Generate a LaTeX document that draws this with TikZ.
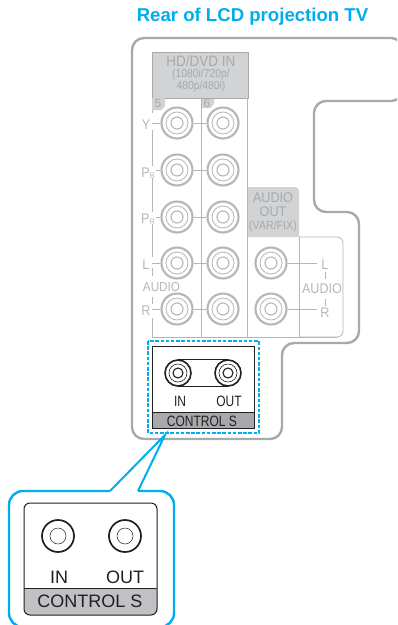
\documentclass[tikz,border=0pt]{standalone}
\usepackage{fontspec}
\setmainfont{Liberation Sans}
\newfontfamily\narrowfont[FakeStretch=0.9]{Liberation Sans}
\newfontfamily\slimfont[FakeStretch=0.8]{Liberation Sans}
\definecolor{skyblue}{HTML}{00AEEF}
\definecolor{panelgray}{HTML}{A7A9AC}
\definecolor{softgray}{HTML}{B4B6B9}
\definecolor{boxgray}{HTML}{D1D3D4}
\definecolor{bandgray}{HTML}{A7A9AC}
\definecolor{inkblack}{HTML}{231F20}
\newcommand{\txt}[1]{\fontsize{#1}{#1}\selectfont}
\tikzset{every picture/.style={line width=0.75pt},
  jackout/.style={circle,draw=softgray,line width=2.1pt,fill=white,minimum size=31pt,inner sep=0pt},
  jackmid/.style={circle,draw=softgray,line width=0.8pt,minimum size=22pt,inner sep=0pt},
  jackin/.style={circle,draw=softgray,line width=1.1pt,minimum size=12pt,inner sep=0pt},
  darkout/.style={circle,draw=inkblack,line width=1.6pt,fill=white,minimum size=26pt,inner sep=0pt},
  darkmid/.style={circle,draw=inkblack,line width=0.6pt,minimum size=18pt,inner sep=0pt},
  darkin/.style={circle,draw=inkblack,line width=1.1pt,minimum size=10pt,inner sep=0pt},
  bigout/.style={circle,draw=inkblack,line width=1.7pt,fill=white,minimum size=32pt,inner sep=0pt},
  bigin/.style={circle,draw=inkblack,line width=0.5pt,minimum size=16pt,inner sep=0pt},
  graylabel/.style={text=softgray,inner sep=0pt,align=center},
  boxlabel/.style={text=panelgray,inner sep=0pt,align=center},
  darklabel/.style={text=inkblack,inner sep=0pt},
  thinline/.style={draw=softgray,line width=0.8pt}}

\begin{document}
\begin{tikzpicture}[x=1pt,y=-1pt]
  \clip (0,0) rectangle (397,625);

  % --- titre ---
  \node[text=skyblue,inner sep=0pt,font=\txt{18.6}\bfseries] (title) at (252.5,17) {Rear of LCD projection TV};

  % --- le boitier ---
  \draw[draw=panelgray,line width=2.4pt,rounded corners=12pt]
    (132,38) -- (403,38) -- (403,101) -- (314,101) -- (314,212)
    -- (359,212) -- (359,343) -- (282,343) -- (282,439) -- (132,439) -- cycle;

  % --- les panneaux gris ---
  \fill[boxgray] (152,52) -- (248,52) -- (248,98) -- (214,98) -- (214,104)
    to[out=90,in=0] (210,108) -- (201,108) -- (201,98) -- (165,98) -- (165,106)
    to[out=90,in=0] (161,110) -- (152,110) -- cycle;
  \draw[draw=panelgray,line width=0.8pt] (152,98) -- (152,52) -- (248,52) -- (248,98) -- (165,98);
  \fill[boxgray,rounded corners=4pt] (247,187) -- (299,187) -- (299,237) -- (247,237) -- cycle;
  \fill[boxgray] (247,187) rectangle (255,237);
  \fill[boxgray] (290,228) rectangle (299,237);
  \node[boxlabel,font=\narrowfont\txt{15}] (hdin) at (201,61) {HD/DVD IN};
  \node[boxlabel,font=\narrowfont\txt{11.5}] (hdres) at (201,75) {(1080i/720p/};
  \node[boxlabel,font=\narrowfont\txt{11.5}] (hdrestwo) at (201,87) {480p/480i)};
  \node[boxlabel,font=\txt{12}] (numfive) at (158,103) {5};
  \node[boxlabel,font=\txt{12}] (numsix) at (207,103) {6};
  \node[boxlabel,font=\narrowfont\txt{14}] (aoutone) at (273,198) {AUDIO};
  \node[boxlabel,font=\narrowfont\txt{14}] (aouttwo) at (273,212) {OUT};
  \node[boxlabel,font=\narrowfont\txt{11.8}] (aoutvar) at (273,226) {(VAR/FIX)};

  % --- les cloisons ---
  \foreach \a/\b in {110/113,130/166,178/212,224/257,268/276,297/304,318/337}
    \draw[thinline] (152,\a) -- (152,\b);
  \draw[thinline] (152,337) -- (337,337);
  \draw[thinline] (201,98) -- (201,337);
  \draw[thinline] (247,98) -- (247,337);
  \draw[thinline] (299,237) -- (299,337);
  \draw[thinline,rounded corners=6pt] (299,237) -- (343,237) -- (343,337) -- (299,337);

  % --- les prises ---
  \foreach \n/\y/\s in {y/123/152,b/170/156,r/217/156,l/263/152,a/309/152}{
    \coordinate (w\n) at (\s,\y);
    \node[jackout] (\n five) at (177,\y) {};
    \node[jackmid] (\n fivem) at (\n five) {};
    \node[jackin] (\n fivei) at (\n five) {};
    \node[jackout] (\n six) at (223,\y) {};
    \node[jackmid] (\n sixm) at (\n six) {};
    \node[jackin] (\n sixi) at (\n six) {};
    \draw[thinline] (w\n) -- (\n five);
    \draw[thinline] (\n five) -- (\n six);
  }
  \foreach \n/\y in {l/263,a/309}{
    \coordinate (e\n) at (317,\y);
    \node[jackout] (\n out) at (271,\y) {};
    \node[jackmid] (\n outm) at (\n out) {};
    \node[jackin] (\n outi) at (\n out) {};
    \draw[thinline] (\n out) -- (e\n);
  }

  % --- les noms des prises ---
  \node[graylabel,font=\narrowfont\txt{14}] (ny) at (146,125) {Y};
  \node[graylabel,font=\narrowfont\txt{14}] (nb) at (148,173) {P\raisebox{-0.2ex}{\txt{8}B}};
  \node[graylabel,font=\narrowfont\txt{14}] (nr) at (148,219) {P\raisebox{-0.2ex}{\txt{8}R}};
  \node[graylabel,font=\narrowfont\txt{14}] (nl) at (146,265) {L};
  \node[graylabel,font=\narrowfont\txt{14}] (na) at (146,311) {R};
  \node[graylabel,font=\narrowfont\txt{13}] (naudio) at (161.5,287) {AUDIO};
  \node[graylabel,font=\narrowfont\txt{14}] (rl) at (325,265) {L};
  \node[graylabel,font=\narrowfont\txt{14}] (raudio) at (322,289) {AUDIO};
  \node[graylabel,font=\narrowfont\txt{14}] (rr) at (325,313) {R};
  \draw[thinline] (rl) ++(0,7) -- ++(0,7);
  \draw[thinline] (rr) ++(0,-7) -- ++(0,-7);

  % --- CONTROL S ---
  \draw[draw=inkblack,line width=1pt,fill=white] (152,346) rectangle (254,428);
  \fill[bandgray] (152,412) rectangle (254,428);
  \draw[draw=inkblack,line width=1pt] (152,412) -- (254,412) -- (254,428) -- (152,428) -- cycle;
  \draw[draw=skyblue,line width=1.3pt,dash pattern=on 3.5pt off 1.7pt] (148,341) rectangle (259,433);
  \node[darkout] (inback) at (178,373) {};
  \node[darkmid] (inbackm) at (inback) {};
  \node[darkin] (inbacki) at (inback) {};
  \node[darkout] (outback) at (228,373) {};
  \node[darkmid] (outbackm) at (outback) {};
  \node[darkin] (outbacki) at (outback) {};
  \draw[draw=inkblack,line width=0.8pt] (inback.north) -- (outback.north);
  \draw[draw=inkblack,line width=0.8pt] (inback.south) -- (outback.south);
  \node[darklabel,font=\slimfont\txt{15}] (inlab) at (180,401) {IN};
  \node[darklabel,font=\slimfont\txt{15}] (outlab) at (229,401) {OUT};
  \node[darklabel,font=\slimfont\txt{15}] (ctrl) at (202,421) {CONTROL S};

  % --- la loupe ---
  \draw[draw=skyblue,line width=2.4pt,rounded corners=14pt]
    (138,491) -- (174,491) -- (174,627) -- (9,627) -- (9,491) -- (110,491);
  \draw[draw=skyblue,line width=2pt,line join=miter] (110,491) -- (165,435) -- (138,491);
  \fill[softgray!85!white,rounded corners=6pt] (24,588) -- (157,588) -- (157,615) -- (24,615) -- cycle;
  \fill[softgray!85!white] (24,588) rectangle (157,600);
  \draw[draw=inkblack,line width=1pt,rounded corners=6pt] (24,503) rectangle (157,615);
  \draw[draw=inkblack,line width=0.8pt] (24,588) -- (157,588);
  \node[bigout] (inbig) at (58,536) {};
  \node[bigin] (inbigi) at (inbig) {};
  \node[bigout] (outbig) at (125,536) {};
  \node[bigin] (outbigi) at (outbig) {};
  \node[darklabel,font=\txt{18}] (inbiglab) at (59,577) {IN};
  \node[darklabel,font=\txt{18}] (outbiglab) at (125,577) {OUT};
  \node[darklabel,font=\txt{18}] (ctrlbig) at (90,601) {CONTROL S};
\end{tikzpicture}
\end{document}
